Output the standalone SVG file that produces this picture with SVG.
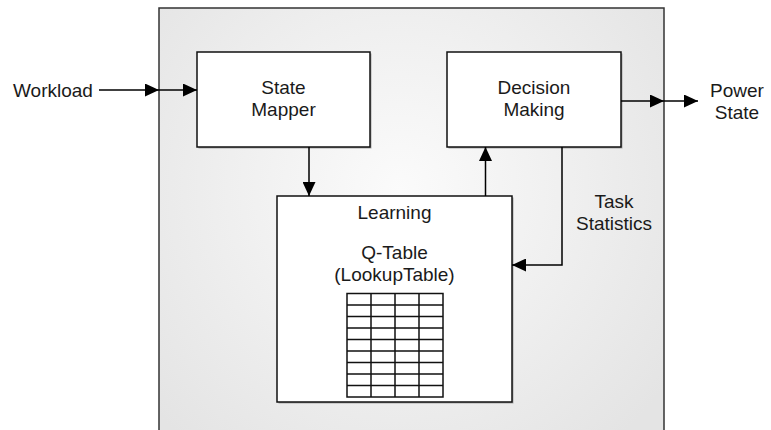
<svg xmlns="http://www.w3.org/2000/svg" width="771" height="430" viewBox="0 0 771 430">
  <defs>
    <radialGradient id="panelFill" cx="400" cy="190" r="330" gradientUnits="userSpaceOnUse">
      <stop offset="0" stop-color="#fbfbfb"/>
      <stop offset="1" stop-color="#e4e4e4"/>
    </radialGradient>
    <marker id="arrow" markerUnits="userSpaceOnUse" markerWidth="14" markerHeight="13" refX="14" refY="6.5" orient="auto">
      <path d="M0,0 L14,6.5 L0,13 Z" fill="#000"/>
    </marker>
  </defs>
  <style>
    text { font-family: "Liberation Sans", Arial, sans-serif; font-size: 19px; fill: #1a1a1a; }
    .mid { text-anchor: middle; }
    .box { fill: #ffffff; stroke: #111; stroke-width: 1.5; }
    .shadow { fill: #a8a8a8; }
    .wire { fill: none; stroke: #000; stroke-width: 1.5; }
    .grid { fill: none; stroke: #111; stroke-width: 1.5; }
  </style>

  <rect width="771" height="430" fill="#ffffff"/>

  <!-- controller enclosure -->
  <g id="controller">
    <rect x="159" y="8" width="505" height="440" fill="url(#panelFill)" stroke="#333" stroke-width="1.5"/>
  </g>

  <g id="state-mapper">
    <rect class="shadow" x="198.5" y="53.5" width="173" height="95"/>
    <rect class="box" x="197" y="52" width="173" height="95"/>
    <text class="mid" x="283.5" y="94">State</text>
    <text class="mid" x="283.5" y="116">Mapper</text>
  </g>

  <g id="decision-making">
    <rect class="shadow" x="448.5" y="53.5" width="174" height="95"/>
    <rect class="box" x="447" y="52" width="174" height="95"/>
    <text class="mid" x="534" y="94">Decision</text>
    <text class="mid" x="534" y="116">Making</text>
  </g>

  <g id="learning">
    <rect class="shadow" x="278.5" y="197.5" width="235" height="206"/>
    <rect class="box" x="277" y="196" width="235" height="206"/>
    <text class="mid" x="394.5" y="219">Learning</text>
    <text class="mid" x="394.5" y="259">Q-Table</text>
    <text class="mid" x="394.5" y="281">(LookupTable)</text>
    <!-- Q-table grid: 4 columns x 9 rows -->
    <g id="q-table">
      <rect class="grid" x="347" y="293.5" width="96" height="103.5"/>
      <path class="grid" d="M371,293.5 V397 M395,293.5 V397 M419,293.5 V397
        M347,305 H443 M347,316.5 H443 M347,328 H443 M347,339.5 H443
        M347,351 H443 M347,362.5 H443 M347,374 H443 M347,385.5 H443"/>
    </g>
  </g>

  <g id="labels">
    <text x="13" y="97">Workload</text>
    <text class="mid" x="737" y="97">Power</text>
    <text class="mid" x="737" y="119">State</text>
    <text class="mid" x="614" y="208">Task</text>
    <text class="mid" x="614" y="230">Statistics</text>
  </g>

  <g id="connectors">
    <path class="wire" d="M99,90 H159" marker-end="url(#arrow)"/>
    <path class="wire" d="M159,90 H197" marker-end="url(#arrow)"/>
    <path class="wire" d="M309,147 V196" marker-end="url(#arrow)"/>
    <path class="wire" d="M485.5,196 V147" marker-end="url(#arrow)"/>
    <path class="wire" d="M562,147 V265 H512" marker-end="url(#arrow)"/>
    <path class="wire" d="M621,101 H664" marker-end="url(#arrow)"/>
    <path class="wire" d="M664,101 H698" marker-end="url(#arrow)"/>
  </g>
</svg>
